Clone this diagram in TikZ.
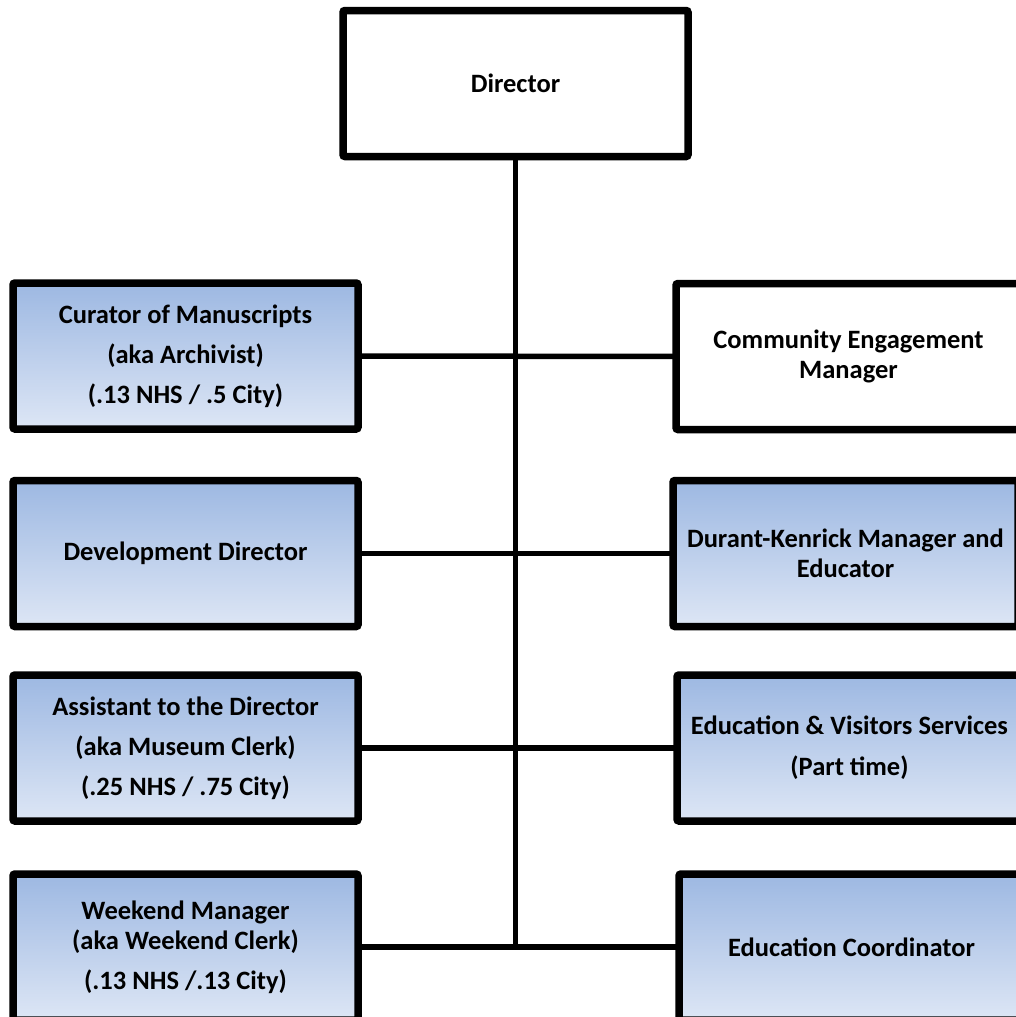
\documentclass[tikz,border=0pt]{standalone}
\usepackage{fontspec}
\setmainfont{Carlito}
\definecolor{gtop}{HTML}{9DB8E2}
\definecolor{gbot}{HTML}{DDE6F5}
\tikzset{
  box/.style={draw=black, line width=7.5pt, rounded corners=2pt, minimum width=345pt, minimum height=146pt,
    inner sep=0pt, outer sep=0pt, align=center, font=\fontsize{26.5}{30}\selectfont\bfseries, text=black},
  blue/.style={box, top color=gtop, bottom color=gbot},
  plain/.style={box, fill=white},
  conn/.style={draw=black, line width=5.5pt}
}
\begin{document}
\begin{tikzpicture}[x=1pt,y=-1pt]
\useasboundingbox (0,0) rectangle (1016,1017);
\clip (0,0) rectangle (1016,1017);
\fill[white] (0,0) rectangle (1016,1017);
\node[plain] (dir) at (515.5,83.5) {Director};
\node[blue] (cur) at (185.5,356) {Curator of Manuscripts\\[10pt](aka Archivist)\\[10pt](.13 NHS / .5 City)};
\node[plain] (com) at (848.5,356.5) {Community Engagement\\Manager};
\node[blue] (dev) at (185.5,553.5) {Development Director};
\node[blue] (dkm) at (845.5,553.5) {Durant-Kenrick Manager and\\Educator};
\node[blue] (ast) at (185.5,748) {Assistant to the Director\\[10pt](aka Museum Clerk)\\[10pt](.25 NHS / .75 City)};
\node[blue] (evs) at (849.5,748) {Education \& Visitors Services\\[11pt](Part time)};
\node[blue] (wkd) at (185.5,947) {Weekend Manager\\(aka Weekend Clerk)\\[10pt](.13 NHS /.13 City)};
\node[blue] (edc) at (851.5,947) {Education Coordinator};
\coordinate (bot) at (dir.south |- wkd.east);
\draw[conn] (dir.south) -- (bot);
\draw[conn] (cur.east) -- (com.west);
\draw[conn] (dev.east) -- (dkm.west);
\draw[conn] (ast.east) -- (evs.west);
\draw[conn] (wkd.east) -- (edc.west);
\end{tikzpicture}
\end{document}
